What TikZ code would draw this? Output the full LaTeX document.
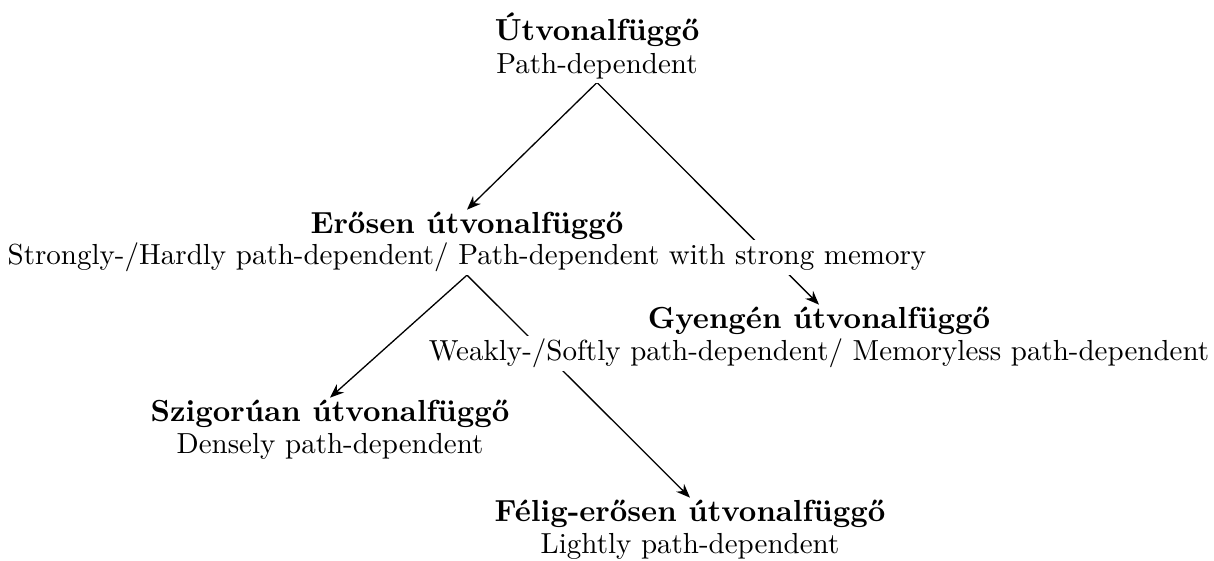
\documentclass[tikz,border=0pt]{standalone}
\usetikzlibrary{arrows.meta,backgrounds}
\begin{document}
\begin{tikzpicture}[x=0.3448pt,y=-0.3448pt,
  ttl/.style={anchor=base,inner sep=1pt,outer sep=0pt,font=\fontsize{10.5pt}{13pt}\selectfont\bfseries},
  sub/.style={anchor=base,inner sep=1pt,outer sep=0pt,fill=white,font=\fontsize{10pt}{12pt}\selectfont},
  arr/.style={-{Stealth[length=4.8pt,width=3.8pt]},line width=0.45pt}]
\useasboundingbox (0,0) rectangle (1214,561);
\node[ttl] (t1) at (597,41) {Útvonalfüggő};
\node[sub] (s1) at (597,74) {Path-dependent};
\node[ttl] (t2) at (467,234) {Erősen útvonalfüggő};
\node[sub] (s2) at (467,265) {Strongly-/Hardly path-dependent/ Path-dependent with strong memory};
\node[ttl] (t3) at (819,329) {Gyengén útvonalfüggő};
\node[sub] (s3) at (819,361) {Weakly-/Softly path-dependent/ Memoryless path-dependent};
\node[ttl] (t4) at (330,422) {Szigorúan útvonalfüggő};
\node[sub] (s4) at (330,454) {Densely path-dependent};
\node[ttl] (t5) at (690,522) {Félig-erősen útvonalfüggő};
\node[sub] (s5) at (690,554) {Lightly path-dependent};
\begin{pgfonlayer}{background}
\draw[arr] (s1.south) -- (t2.north);
\draw[arr] (s1.south) -- (t3.north);
\draw[arr] (s2.south) -- (t4.north);
\draw[arr] (s2.south) -- (t5.north);
\end{pgfonlayer}
\end{tikzpicture}
\end{document}
